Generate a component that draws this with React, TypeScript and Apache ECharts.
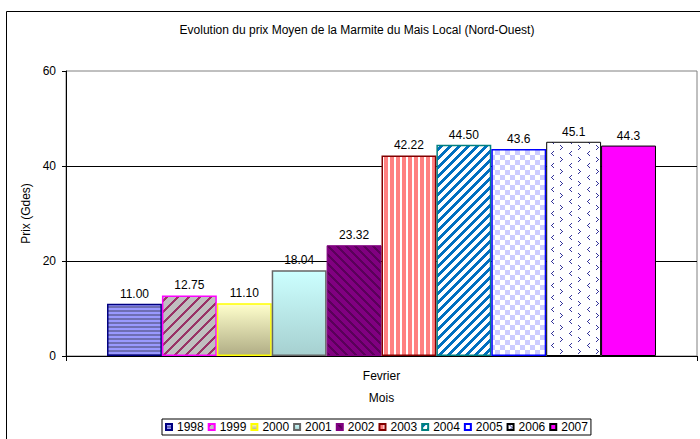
import React, { useEffect, useRef } from "react";
import * as echarts from "echarts";

const categories = ["Fevrier"];
const years = ["1998", "1999", "2000", "2001", "2002", "2003", "2004", "2005", "2006", "2007"];
const prices = [11.0, 12.75, 11.1, 18.04, 23.32, 42.22, 44.5, 43.6, 45.1, 44.3];
const priceLabels = ["11.00", "12.75", "11.10", "18.04", "23.32", "42.22", "44.50", "43.6", "45.1", "44.3"];
const yTicks = { min: 0, max: 60, interval: 20 };

const FONT = "'Liberation Sans', Arial, Helvetica, sans-serif";
const FS = 12;

function makePattern(w: number, h: number, pix: (x: number, y: number) => string) {
  const c = document.createElement("canvas");
  c.width = w;
  c.height = h;
  const ctx = c.getContext("2d")!;
  for (let y = 0; y < h; y++) {
    for (let x = 0; x < w; x++) {
      ctx.fillStyle = pix(x, y);
      ctx.fillRect(x, y, 1, 1);
    }
  }
  return { image: c.toDataURL(), repeat: "repeat", imageWidth: w, imageHeight: h } as any;
}

function chevron(x: number, y: number, w: number): boolean {
  const gt = [[0, 0], [1, 1], [2, 2], [1, 3], [0, 4]];
  const lt = [[2, 0], [1, 1], [0, 2], [1, 3], [2, 4]];
  for (const [dx, dy] of gt) if (x === 2 + dx && y === 1 + dy) return true;
  const ox = w / 2 + 2;
  for (const [dx, dy] of lt) if (x === ox + dx && y === 7 + dy) return true;
  return false;
}

function buildStyles() {
  const grad = (a: string, b: string) =>
    new echarts.graphic.LinearGradient(0, 0, 0, 1, [
      { offset: 0, color: a },
      { offset: 1, color: b },
    ]);
  return [
    { color: makePattern(4, 4, (x, y) => (y < 2 ? "#9999ff" : "#6e6eb4")), borderColor: "#000080", borderWidth: 1.5 },
    { color: makePattern(11, 11, (x, y) => ((x + y) % 11 < 3 ? "#993366" : "#c0c0c0")), borderColor: "#ff00ff", borderWidth: 1.5 },
    { color: grad("#ffffcc", "#b0ad85"), borderColor: "#ffff00", borderWidth: 1.5 },
    { color: grad("#ccffff", "#a6d0d0"), borderColor: "#666666", borderWidth: 1.5 },
    { color: makePattern(9, 9, (x, y) => ((x - y + 18) % 9 < 3 ? "#5a005a" : "#800080")), borderColor: "#800080", borderWidth: 1 },
    { color: makePattern(6, 1, (x) => (x < 4 ? "#ff8080" : "#ffffff")), borderColor: "#800000", borderWidth: 1.5 },
    { color: makePattern(9, 9, (x, y) => ((x + y) % 9 < 4 ? "#0070c0" : "#ffffff")), borderColor: "#008080", borderWidth: 1.5 },
    { color: makePattern(10, 10, (x, y) => (((x < 5) !== (y < 5)) ? "#ccccff" : "#ffffff")), borderColor: "#0000ff", borderWidth: 1.5 },
    { color: makePattern(18, 12, (x, y) => (chevron(x, y, 18) ? "#333399" : "#ffffff")), borderColor: "#000000", borderWidth: 1 },
    { color: "#ff00ff", borderColor: "#000000", borderWidth: 1 },
  ];
}

export default function App() {
  const ref = useRef<HTMLDivElement>(null);
  useEffect(() => {
    if (!ref.current) return;
    const chart = echarts.init(ref.current, null, { renderer: "svg" });
    const styles = buildStyles();
    const series = years.map((y, i) => ({
      name: y,
      type: "bar",
      data: [prices[i]],
      barGap: "0%",
      barCategoryGap: "13%",
      itemStyle: styles[i],
      label: {
        show: true,
        position: "top",
        distance: 4,
        fontSize: FS,
        color: "#000",
        fontFamily: FONT,
        formatter: () => priceLabels[i],
      },
    }));
    chart.setOption({
      animation: false,
      textStyle: { fontFamily: FONT, color: "#000" },
      graphic: [
        {
          type: "rect",
          silent: true,
          z: -10,
          shape: { x: 6.5, y: 11.5, width: 800, height: 500 },
          style: { fill: "#fff", stroke: "#000", lineWidth: 1 },
        },
        {
          type: "text",
          x: 357,
          y: 30,
          style: {
            text: "Evolution du prix Moyen de la Marmite du Mais Local (Nord-Ouest)",
            fontSize: FS,
            fontFamily: FONT,
            fill: "#000",
            align: "center",
            verticalAlign: "middle",
          },
        },
      ],
      grid: {
        left: 66,
        right: 3,
        top: 71,
        bottom: 83,
        show: true,
        borderColor: "#808080",
        borderWidth: 1,
        backgroundColor: "transparent",
        outerBoundsMode: "none",
      },
      legend: {
        data: years,
        left: 162,
        top: 419,
        orient: "horizontal",
        icon: "rect",
        itemWidth: 6,
        itemHeight: 6,
        itemGap: 4,
        padding: [2, 3],
        borderColor: "#000",
        borderWidth: 1,
        backgroundColor: "#fff",
        textStyle: { fontSize: FS, color: "#000", fontFamily: FONT },
      },
      xAxis: {
        type: "category",
        data: categories,
        name: "Mois",
        nameLocation: "middle",
        nameGap: 36,
        nameTextStyle: { fontSize: FS, color: "#000", fontFamily: FONT },
        axisLine: { show: true, lineStyle: { color: "#000" } },
        axisTick: { show: true, length: 5, lineStyle: { color: "#000" } },
        axisLabel: { fontSize: FS, color: "#000", margin: 14, fontFamily: FONT },
        splitLine: { show: false },
      },
      yAxis: {
        type: "value",
        min: yTicks.min,
        max: yTicks.max,
        interval: yTicks.interval,
        name: "Prix (Gdes)",
        nameLocation: "middle",
        nameGap: 25,
        nameRotate: 90,
        nameTextStyle: { fontSize: FS, color: "#000", fontFamily: FONT },
        axisLine: { show: true, lineStyle: { color: "#000" } },
        axisTick: { show: true, length: 4, lineStyle: { color: "#000" } },
        axisLabel: { fontSize: FS, color: "#000", margin: 10, fontFamily: FONT },
        splitLine: { show: true, showMinLine: false, showMaxLine: false, lineStyle: { color: "#000", width: 1 } },
      },
      series,
    });
    return () => chart.dispose();
  }, []);
  return <div ref={ref} style={{ width: 700, height: 439, position: "absolute", left: 0, top: 0 }} />;
}
